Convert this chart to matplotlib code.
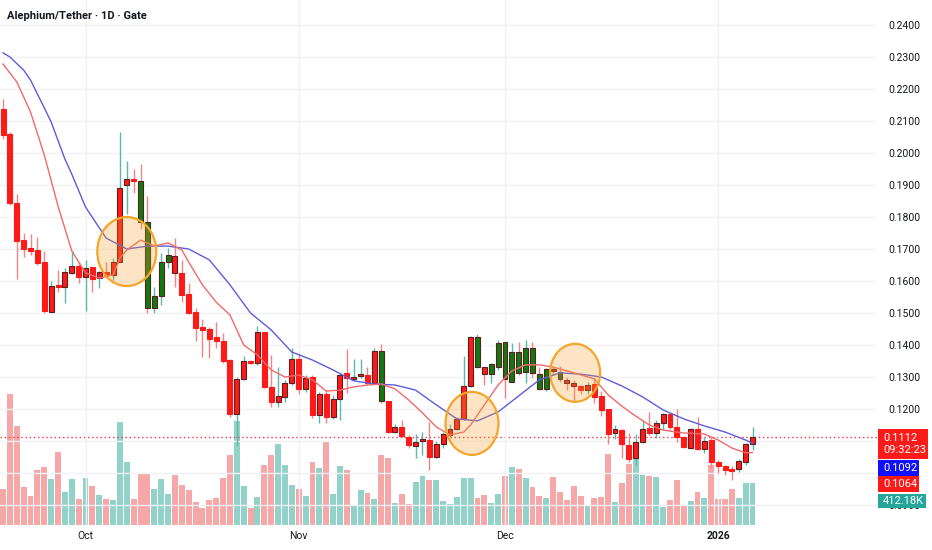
import numpy as np
import matplotlib.pyplot as plt
from matplotlib.patches import Ellipse, Rectangle

plt.rcParams['font.family'] = ['Roboto', 'DejaVu Sans']

# daily candles, Sep 19 2025 .. Jan 6 2026 (index 0 = Sep 19)
opens = [0.2138, 0.2059, 0.1844, 0.1728, 0.1703, 0.1697, 0.1659, 0.1503, 0.1584, 0.1581,
         0.1625, 0.1647, 0.1613, 0.1644, 0.1609, 0.1628, 0.1619, 0.1660, 0.1900, 0.1919,
         0.1913, 0.1784, 0.1516, 0.1553, 0.1659, 0.1678, 0.1625, 0.1559, 0.1503, 0.1456,
         0.1450, 0.1425, 0.1413, 0.1353, 0.1184, 0.1294, 0.1350, 0.1344, 0.1441, 0.1269,
         0.1222, 0.1238, 0.1281, 0.1356, 0.1263, 0.1300, 0.1181, 0.1247, 0.1175, 0.1231,
         0.1313, 0.1294, 0.1303, 0.1306, 0.1281, 0.1381, 0.1225, 0.1128, 0.1144, 0.1113,
         0.1084, 0.1100, 0.1103, 0.1050, 0.1091, 0.1119, 0.1138, 0.1169, 0.1272, 0.1425,
         0.1331, 0.1309, 0.1331, 0.1409, 0.1284, 0.1378, 0.1316, 0.1390, 0.1309, 0.1263,
         0.1325, 0.1316, 0.1291, 0.1281, 0.1272, 0.1259, 0.1278, 0.1241, 0.1200, 0.1125,
         0.1134, 0.1088, 0.1047, 0.1097, 0.1141, 0.1125, 0.1156, 0.1184, 0.1144, 0.1113,
         0.1078, 0.1138, 0.1075, 0.1103, 0.1034, 0.1022, 0.1013, 0.1013, 0.1034, 0.1091]
highs = [0.2169, 0.2066, 0.1872, 0.1750, 0.1747, 0.1738, 0.1694, 0.1600, 0.1634, 0.1641,
         0.1694, 0.1660, 0.1666, 0.1644, 0.1631, 0.1660, 0.1672, 0.2066, 0.1975, 0.1950,
         0.1966, 0.1866, 0.1581, 0.1688, 0.1703, 0.1734, 0.1666, 0.1594, 0.1516, 0.1481,
         0.1456, 0.1472, 0.1438, 0.1356, 0.1300, 0.1366, 0.1353, 0.1459, 0.1441, 0.1369,
         0.1331, 0.1291, 0.1391, 0.1375, 0.1306, 0.1306, 0.1253, 0.1259, 0.1244, 0.1313,
         0.1388, 0.1356, 0.1356, 0.1331, 0.1391, 0.1403, 0.1225, 0.1153, 0.1166, 0.1119,
         0.1122, 0.1128, 0.1159, 0.1100, 0.1128, 0.1153, 0.1175, 0.1366, 0.1428, 0.1434,
         0.1331, 0.1344, 0.1416, 0.1409, 0.1406, 0.1409, 0.1416, 0.1409, 0.1331, 0.1328,
         0.1331, 0.1334, 0.1300, 0.1291, 0.1275, 0.1284, 0.1297, 0.1256, 0.1200, 0.1150,
         0.1138, 0.1125, 0.1122, 0.1166, 0.1191, 0.1166, 0.1188, 0.1188, 0.1200, 0.1113,
         0.1141, 0.1175, 0.1113, 0.1113, 0.1041, 0.1025, 0.1022, 0.1044, 0.1094, 0.1144]
lows = [0.2044, 0.1838, 0.1606, 0.1675, 0.1681, 0.1650, 0.1500, 0.1503, 0.1566, 0.1531,
        0.1622, 0.1594, 0.1506, 0.1566, 0.1578, 0.1609, 0.1603, 0.1660, 0.1809, 0.1875,
        0.1763, 0.1500, 0.1500, 0.1525, 0.1641, 0.1581, 0.1534, 0.1497, 0.1413, 0.1363,
        0.1359, 0.1391, 0.1344, 0.1175, 0.1087, 0.1291, 0.1341, 0.1338, 0.1266, 0.1206,
        0.1206, 0.1222, 0.1275, 0.1247, 0.1253, 0.1172, 0.1156, 0.1156, 0.1169, 0.1166,
        0.1250, 0.1291, 0.1297, 0.1275, 0.1278, 0.1219, 0.1125, 0.1125, 0.1113, 0.1078,
        0.1047, 0.1056, 0.1009, 0.1047, 0.1078, 0.1113, 0.1134, 0.1166, 0.1269, 0.1328,
        0.1275, 0.1281, 0.1322, 0.1234, 0.1284, 0.1306, 0.1281, 0.1297, 0.1260, 0.1256,
        0.1306, 0.1284, 0.1259, 0.1222, 0.1247, 0.1247, 0.1219, 0.1178, 0.1091, 0.1106,
        0.1047, 0.1034, 0.1025, 0.1094, 0.1119, 0.1109, 0.1134, 0.1138, 0.1097, 0.1078,
        0.1075, 0.1072, 0.1063, 0.1016, 0.1000, 0.0994, 0.0978, 0.1003, 0.1025, 0.1072]
closes = [0.2056, 0.1844, 0.1725, 0.1700, 0.1694, 0.1656, 0.1506, 0.1584, 0.1581, 0.1628,
          0.1647, 0.1613, 0.1641, 0.1606, 0.1628, 0.1619, 0.1660, 0.1891, 0.1919, 0.1913,
          0.1784, 0.1516, 0.1553, 0.1659, 0.1681, 0.1625, 0.1556, 0.1500, 0.1453, 0.1447,
          0.1419, 0.1413, 0.1350, 0.1184, 0.1294, 0.1350, 0.1344, 0.1441, 0.1269, 0.1222,
          0.1241, 0.1281, 0.1356, 0.1263, 0.1297, 0.1181, 0.1247, 0.1175, 0.1231, 0.1306,
          0.1297, 0.1300, 0.1309, 0.1281, 0.1381, 0.1225, 0.1128, 0.1144, 0.1116, 0.1088,
          0.1097, 0.1103, 0.1050, 0.1091, 0.1122, 0.1138, 0.1169, 0.1272, 0.1425, 0.1331,
          0.1309, 0.1341, 0.1406, 0.1294, 0.1378, 0.1313, 0.1390, 0.1313, 0.1263, 0.1325,
          0.1319, 0.1294, 0.1281, 0.1272, 0.1259, 0.1275, 0.1238, 0.1197, 0.1122, 0.1138,
          0.1091, 0.1044, 0.1097, 0.1138, 0.1125, 0.1156, 0.1184, 0.1144, 0.1113, 0.1081,
          0.1138, 0.1075, 0.1100, 0.1034, 0.1022, 0.1009, 0.1006, 0.1038, 0.1091, 0.1112]
# volume in thousands
volumes = [353, 1285, 971, 373, 284, 540, 569, 451, 716, 324,
           451, 255, 461, 383, 294, 255, 245, 1010, 618, 255,
           500, 500, 353, 451, 304, 491, 392, 343, 226, 167,
           245, 265, 461, 687, 1020, 383, 167, 275, 589, 687,
           795, 589, 392, 353, 284, 618, 559, 814, 304, 579,
           540, 186, 343, 314, 255, 687, 657, 216, 304, 206,
           422, 481, 441, 441, 235, 206, 275, 461, 461, 265,
           294, 216, 304, 481, 569, 549, 461, 373, 284, 265,
           471, 324, 245, 383, 284, 186, 265, 275, 697, 226,
           412, 598, 657, 491, 481, 471, 177, 245, 441, 186,
           235, 324, 265, 589, 255, 255, 353, 265, 412, 412.18]
# body colour code per candle: r = red, d = red with dark outline, g = green
body_codes = ("rrrrrrrdrd" "drdrdrdddr" "gggggdrrrr" "rrrrddrdrr" "dddrdrdrdd"
              "rddrdgrdrr" "ddrddddddg" "dggggggggg" "dgddrdrrrd" "rrddrddrrr"
              "drdrrrrddd")

# moving averages
slow_days = [0, 1, 3, 4, 6, 7, 9, 10, 12, 15, 18, 21, 24, 27, 30, 33, 36, 39, 42,
             45, 48, 51, 54, 57, 60, 63, 66, 69, 72, 75, 78, 81, 84, 87, 90, 93, 96, 99,
             102, 105, 108, 109]
slow_ma = [0.2313, 0.2300, 0.2259, 0.2228, 0.2141, 0.2097, 0.1981, 0.1934, 0.1831,
           0.1734, 0.1700, 0.1709, 0.1709, 0.1700,
           0.1666, 0.1588, 0.1500, 0.1447, 0.1378, 0.1353, 0.1322, 0.1288, 0.1278, 0.1275,
           0.1259, 0.1213, 0.1169, 0.1163, 0.1191, 0.1241, 0.1291, 0.1313, 0.1309, 0.1300,
           0.1272, 0.1238, 0.1197, 0.1169, 0.1147, 0.1128, 0.1103, 0.1092]
fast_days = [0, 2, 4, 6, 8, 10, 12, 14, 16, 17, 18, 20, 22, 24, 26, 27, 29, 31, 33, 35, 37,
             39, 41, 43, 45, 47, 49, 51, 53, 55, 57, 59, 61, 63, 65, 67, 68, 70, 72, 74, 76,
             78, 80, 83, 86, 88, 90, 92, 94, 96, 99, 102, 104, 106, 108, 109]
fast_ma = [0.2278, 0.2222, 0.2128, 0.1994, 0.1834, 0.1694, 0.1625, 0.1609, 0.1619, 0.1672,
           0.1697, 0.1728, 0.1709, 0.1719, 0.1697, 0.1659, 0.1588, 0.1534, 0.1494, 0.1400,
           0.1369, 0.1322, 0.1300, 0.1306, 0.1291, 0.1256, 0.1259, 0.1269, 0.1275, 0.1278,
           0.1263, 0.1228, 0.1188, 0.1144, 0.1119, 0.1128, 0.1150, 0.1213, 0.1275, 0.1319,
           0.1338, 0.1338, 0.1331, 0.1313, 0.1294, 0.1244, 0.1209, 0.1178, 0.1150, 0.1134,
           0.1125, 0.1122, 0.1103, 0.1078, 0.1063, 0.1064]

month_days = [12, 43, 73, 104]
month_labels = ['Oct', 'Nov', 'Dec', '2026']
countdown = '09:32:23'
# price levels whose scale label sits fully under the last-value tags
covered_levels = [0.10, 0.11]

# highlighted zones: centre (day, price), size in pixels
circle_days = [18.0, 68.2, 83.2]
circle_prices = [0.1692, 0.1155, 0.1313]
circle_w_px = [59, 53, 50]
circle_h_px = [69, 63, 58]

UP_WICK = '#5cb8a9'
DN_WICK = '#f08585'
UP_VOL = '#92d2c8'
DN_VOL = '#f6a7a7'
RED = '#ff1a1a'
GREEN = '#107a10'
DARK = '#5a2020'
TEXT = '#131722'

W, H = 932, 550
fig = plt.figure(figsize=(W / 100, H / 100), dpi=100)
pos = [0, 25 / H, 877 / W, 525 / H]
axv = fig.add_axes(pos)
ax = fig.add_axes(pos)
ax.patch.set_visible(False)

days = np.arange(len(closes))
o = np.array(opens); c = np.array(closes)
hi = np.array(highs); lo = np.array(lows)
up = c >= o

xlim = (-0.44, 127.1)
ylim = (0.08375, 0.24781)

# volume
axv.bar(days, volumes, width=0.86, color=[UP_VOL if u else DN_VOL for u in up], zorder=1)
axv.set_xlim(xlim)
axv.set_ylim(0, 5150)
axv.axis('off')

# grid
ax.set_yticks(np.arange(0.09, 0.2401, 0.01))
ax.set_xticks(month_days)
ax.grid(True, color='#f0f2f6', lw=1, zorder=0)

# wicks and bodies
ax.vlines(days, lo, hi, colors=[UP_WICK if u else DN_WICK for u in up], lw=1, zorder=2)
body_low = np.minimum(o, c)
body_h = np.maximum(np.abs(c - o), 0.0005)
face = [GREEN if k == 'g' else RED for k in body_codes]
edge = [RED if k == 'r' else DARK for k in body_codes]
ax.bar(days, body_h, bottom=body_low, width=0.72, color=face, edgecolor=edge, lw=0.8, zorder=3)

# moving averages
ax.plot(slow_days, slow_ma, color='#5d5ddb', lw=1, zorder=4)
ax.plot(fast_days, fast_ma, color='#f06a6a', lw=1, zorder=4)

# last price line
ax.axhline(closes[-1], color='#f23645', lw=1, ls=(0, (1, 2)), zorder=1)

ax.set_xlim(xlim)
ax.set_ylim(ylim)

# highlighted zones
px_day = pos[2] * W / (xlim[1] - xlim[0])
px_price = pos[3] * H / (ylim[1] - ylim[0])
for d, p, wp, hp in zip(circle_days, circle_prices, circle_w_px, circle_h_px):
    ax.add_patch(Ellipse((d, p), wp / px_day, hp / px_price, facecolor=(0.98, 0.62, 0.16, 0.27),
                         edgecolor='#f4a62a', lw=1.6, zorder=5))


def price_label(v, _):
    if any(abs(v - lv) < 1e-6 for lv in covered_levels):
        return ''
    return f'{v:.4f}'


for s in ax.spines.values():
    s.set_visible(False)
ax.yaxis.tick_right()
ax.yaxis.set_major_formatter(plt.FuncFormatter(price_label))
ax.tick_params(axis='y', length=0, pad=8, labelsize=7.5, labelcolor=TEXT)
ax.tick_params(axis='x', length=0, pad=4, labelsize=7.5, labelcolor=TEXT)
ax.set_xticklabels(month_labels)
ax.get_xticklabels()[-1].set_fontweight('bold')

fig.text(7 / W, 1 - 16 / H, 'Alephium/Tether · 1D · Gate', fontsize=8, fontweight='bold',
         color=TEXT, va='center', ha='left')


# price scale tags (they sit over the scale labels, as on the chart)
def tag(top_px, bot_px, right_px, s, fc):
    fig.patches.append(Rectangle((878 / W, 1 - bot_px / H), (right_px - 878) / W,
                                 (bot_px - top_px) / H, transform=fig.transFigure,
                                 facecolor=fc, edgecolor='none', zorder=10))
    fig.text(883 / W, 1 - (top_px + bot_px) / 2 / H, s, fontsize=8, color='white',
             va='center', ha='left', linespacing=1.25, zorder=11)


tag(429, 459, 928, f'{closes[-1]:.4f}\n{countdown}', '#ff1a1a')
tag(460, 476, 919, f'{slow_ma[-1]:.4f}', '#1010ff')
tag(476, 492, 919, f'{fast_ma[-1]:.4f}', '#ff1a1a')
tag(494, 508, 926, f'{volumes[-1]:.2f}K', '#26a69a')

fig.savefig('out.png', dpi=100)
